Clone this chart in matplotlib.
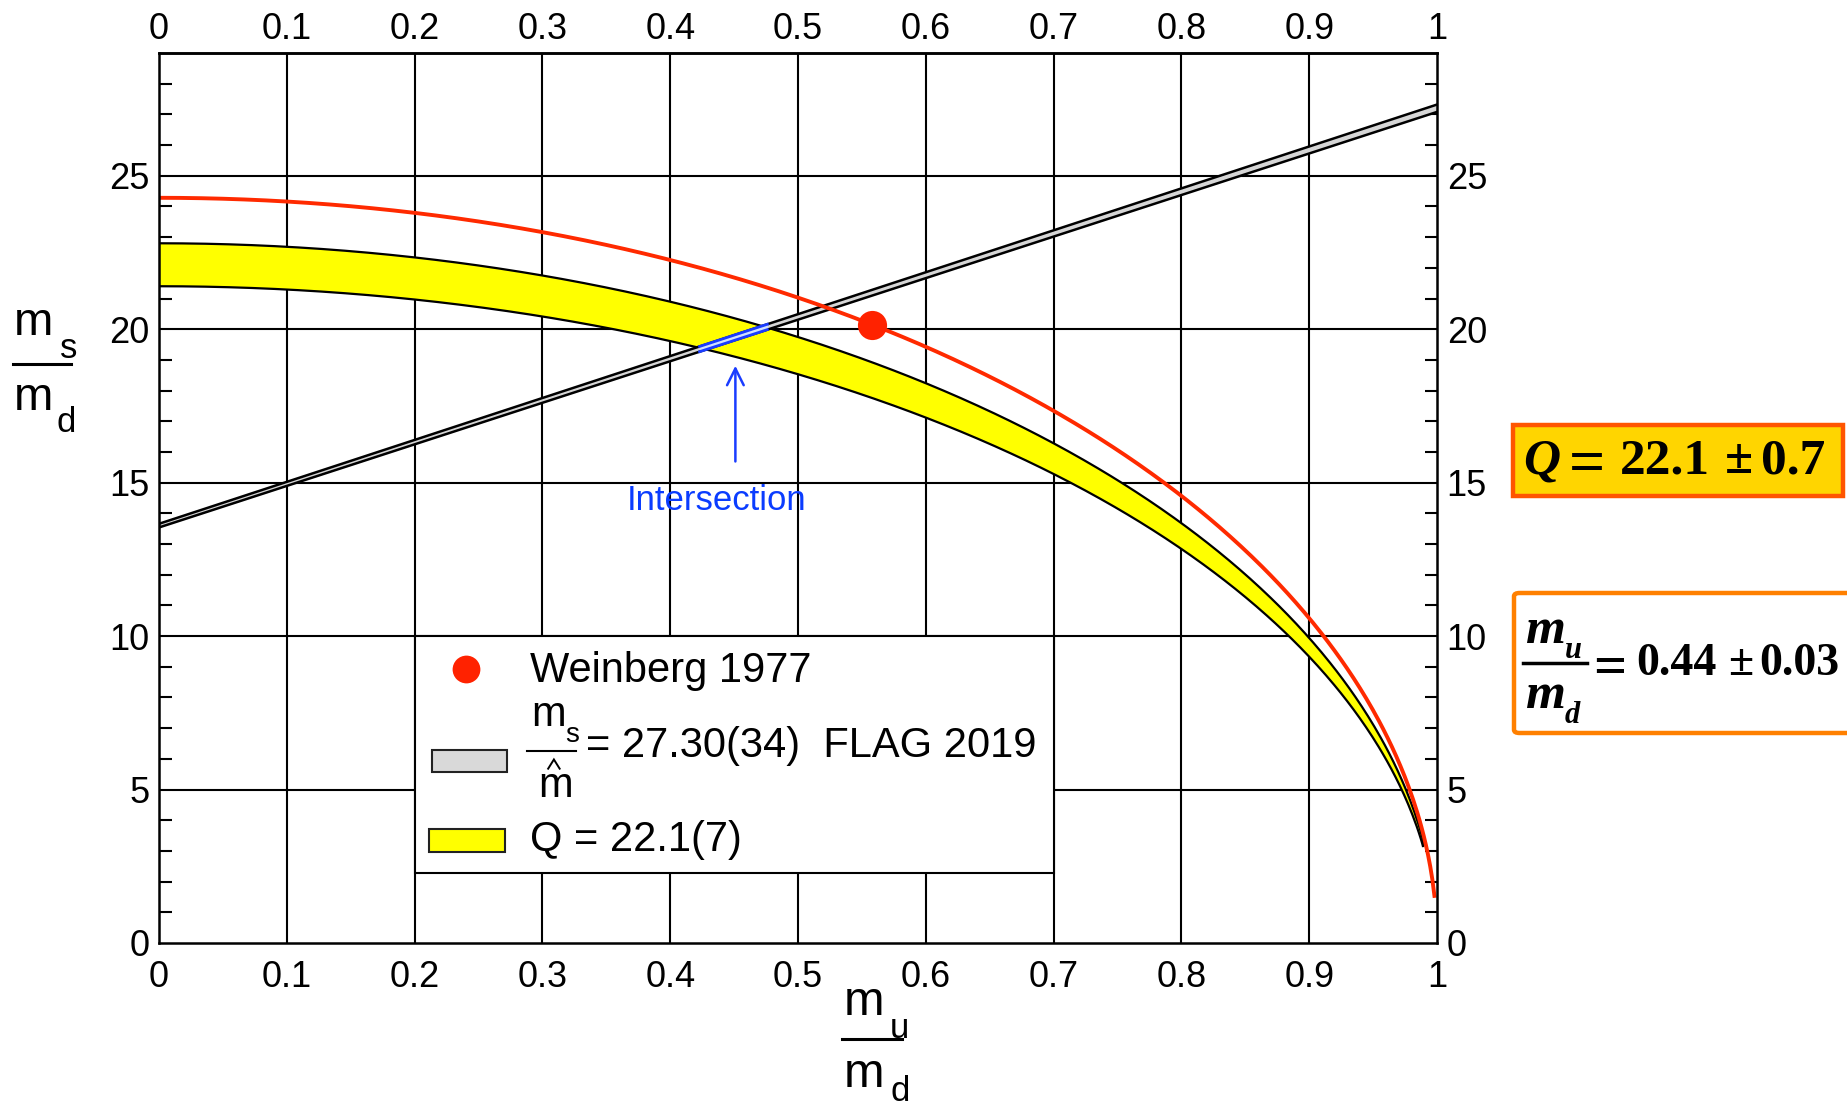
import numpy as np
import matplotlib
matplotlib.use('Agg')
import matplotlib.pyplot as plt
from matplotlib.patches import Rectangle, FancyBboxPatch
from matplotlib.lines import Line2D

plt.rcParams['font.family'] = ['Liberation Sans', 'DejaVu Sans']

# ---------------- data ----------------
x_ticks = [0, 0.1, 0.2, 0.3, 0.4, 0.5, 0.6, 0.7, 0.8, 0.9, 1.0]
x_tick_labels = ['0', '0.1', '0.2', '0.3', '0.4', '0.5', '0.6', '0.7', '0.8', '0.9', '1']
y_ticks = [0, 5, 10, 15, 20, 25]
y_tick_labels = ['0', '5', '10', '15', '20', '25']

Q_central = 22.1          # Q = 22.1(7)
Q_err = 0.7
q_band_xmax = 0.989       # where the yellow band stops

ratio_lo = 27.08          # ms/mhat band as drawn (FLAG 2019: 27.30(34))
ratio_hi = 27.32

weinberg_x = 0.558        # Weinberg 1977 point
weinberg_y = 20.15
weinberg_xmax = 0.998

intersection_x = [0.423, 0.476]
arrow_x = 0.451
arrow_y = [15.6, 18.9]

# ---------------- figure ----------------
fig = plt.figure(figsize=(18.47, 11.07), dpi=100)
ax = fig.add_axes([159/1847, 1-943/1107, (1437-159)/1847, (943-53)/1107])
ax.set_xlim(0, 1)
ax.set_ylim(0, 29)

# grid
for xv in x_ticks[1:-1]:
    ax.axvline(xv, color='black', lw=1.5, zorder=0)
for yv in y_ticks[1:]:
    ax.axhline(yv, color='black', lw=1.5, zorder=0)

# Q band (ellipses)
xq = np.linspace(0, q_band_xmax, 600)
q_lo = (Q_central - Q_err) * np.sqrt(1 - xq**2)
q_hi = (Q_central + Q_err) * np.sqrt(1 - xq**2)
ax.fill_between(xq, q_lo, q_hi, color='#FFFF00', lw=0, zorder=2)
ax.plot(xq, q_lo, color='black', lw=1.6, zorder=3)
ax.plot(xq, q_hi, color='black', lw=1.6, zorder=3)
ax.plot([xq[-1], xq[-1]], [q_lo[-1], q_hi[-1]], color='black', lw=1.6, zorder=3)

# ms/mhat band (lines)
xr = np.linspace(0, 1, 50)
r_lo = ratio_lo * (1 + xr) / 2
r_hi = ratio_hi * (1 + xr) / 2
ax.fill_between(xr, r_lo, r_hi, color='#D6D6D6', lw=0, zorder=4)
ax.plot(xr, r_lo, color='black', lw=1.8, zorder=5)
ax.plot(xr, r_hi, color='black', lw=1.8, zorder=5)

# intersection segment
xi = np.linspace(intersection_x[0], intersection_x[1], 20)
ax.fill_between(xi, ratio_lo * (1 + xi) / 2, ratio_hi * (1 + xi) / 2,
                color='#CFE0FF', lw=0, zorder=6)
ax.plot(xi, ratio_lo * (1 + xi) / 2, color='#1A3CFF', lw=2.0, zorder=6)
ax.plot(xi, ratio_hi * (1 + xi) / 2, color='#1A3CFF', lw=2.0, zorder=6)

# Weinberg ellipse through the Weinberg point
Q_w = weinberg_y / np.sqrt(1 - weinberg_x**2)
xw = np.linspace(0, weinberg_xmax, 600)
ax.plot(xw, Q_w * np.sqrt(1 - xw**2), color='#FF2A00', lw=2.8, zorder=7)
ax.plot([weinberg_x], [weinberg_y], 'o', color='#FF2200', ms=21, mew=0, zorder=8)

# arrow + label
ax.annotate('', xy=(arrow_x, arrow_y[1]), xytext=(arrow_x, arrow_y[0]),
            arrowprops=dict(arrowstyle='->', color='#1A3CFF', lw=1.8,
                            mutation_scale=30), zorder=8)
ax.text(0.436, 14.42, 'Intersection', color='#0A3CFF', fontsize=25,
        ha='center', va='center', zorder=8)

# axes / ticks
ax.set_xticks(x_ticks)
ax.set_xticklabels(x_tick_labels)
ax.set_yticks(y_ticks)
ax.set_yticklabels(y_tick_labels)
ax.set_yticks(np.arange(0, 29, 1), minor=True)
ax.tick_params(which='major', direction='in', length=0, labelsize=26,
               top=True, right=True, labeltop=False, labelright=True)
ax.tick_params(axis='x', which='major', pad=12)
ax.tick_params(axis='y', which='major', pad=7)
ax.tick_params(axis='y', which='minor', direction='in', length=9, width=1.5,
               left=True, right=True)
ax.tick_params(axis='x', which='minor', length=0)
for s in ax.spines.values():
    s.set_linewidth(1.8)
    s.set_zorder(10)

# top tick labels (separate pad)
secx = ax.secondary_xaxis('top')
secx.set_xticks(x_ticks)
secx.set_xticklabels(x_tick_labels)
secx.tick_params(direction='in', length=0, labelsize=26, pad=4)
secx.spines['top'].set_linewidth(1.8)

# ---------------- legend (drawn in data coords) ----------------
ax.add_patch(Rectangle((0.2, 2.28), 0.5, 10.0 - 2.28, facecolor='white',
                       edgecolor='black', lw=1.5, zorder=11))
ax.plot([0.240], [8.92], 'o', color='#FF2200', ms=20, mew=0, zorder=12)
ax.text(0.290, 8.50, 'Weinberg 1977', fontsize=30, va='baseline', zorder=12)
ax.add_patch(Rectangle((0.214, 5.57), 0.058, 0.71, facecolor='#D9D9D9',
                       edgecolor='#222222', lw=1.5, zorder=12))
ax.text(0.291, 7.06, 'm', fontsize=30, va='baseline', zorder=12)
ax.text(0.318, 6.54, 's', fontsize=20, va='baseline', zorder=12)
ax.plot([0.288, 0.326], [6.25, 6.25], color='black', lw=1.5, zorder=12)
ax.plot([0.3045, 0.309, 0.3135], [5.68, 5.98, 5.68], color='black', lw=1.4,
        solid_joinstyle='miter', zorder=12)
ax.text(0.297, 4.75, 'm', fontsize=30, va='baseline', zorder=12)
ax.text(0.334, 6.05, '= 27.30(34)  FLAG 2019', fontsize=30, va='baseline', zorder=12)
ax.add_patch(Rectangle((0.2116, 2.96), 0.059, 0.75, facecolor='#FFFF00',
                       edgecolor='#222222', lw=1.5, zorder=12))
ax.text(0.290, 2.99, 'Q = 22.1(7)', fontsize=30, va='baseline', zorder=12)

# ---------------- axis labels as fractions ----------------
W, H = 1847.0, 1107.0
def ftext(px, py, s, size, ha='left', **kw):
    fig.text(px / W, 1 - py / H, s, fontsize=size, ha=ha, va='baseline', **kw)
def fline(x0, x1, py, lw=2.2):
    fig.add_artist(Line2D([x0 / W, x1 / W], [1 - py / H, 1 - py / H],
                          transform=fig.transFigure, color='black', lw=lw))

# y label  m_s / m_d
ftext(14, 335, 'm', 34)
ftext(60, 358, 's', 25)
fline(13, 71, 364)
ftext(14, 410, 'm', 34)
ftext(57, 432, 'd', 25)

# x label  m_u / m_d
ftext(844, 1015, 'm', 35)
ftext(890, 1038, 'u', 25)
fline(842, 902, 1039)
ftext(844, 1087, 'm', 35)
ftext(890, 1101, 'd', 25)

# ---------------- right-hand boxes ----------------
serif_b = dict(family='Liberation Serif', weight='bold')
serif_bi = dict(family='Liberation Serif', weight='bold', style='italic')

fig.add_artist(Rectangle((1513 / W, 1 - 496 / H), 330 / W, 71 / H,
                         transform=fig.transFigure, facecolor='#FFD500',
                         edgecolor='#FF5500', lw=3.2))
ftext(1542, 473, 'Q', 37, ha='center', **serif_bi)
ftext(1587, 483, '=', 46, ha='center', **serif_b)
ftext(1665, 473, '22.1', 37, ha='center', **serif_b)
ftext(1739, 473, '\u00b1', 37, ha='center', **serif_b)
ftext(1793, 473, '0.7', 37, ha='center', **serif_b)

fig.add_artist(FancyBboxPatch((1514 / W, 1 - 733 / H), 345 / W, 140 / H,
                              boxstyle='round,pad=0,rounding_size=0.003',
                              transform=fig.transFigure, facecolor='white',
                              edgecolor='#FF8000', lw=3.2))
ftext(1525, 643, 'm', 37, **serif_bi)
ftext(1565, 658, 'u', 22, **serif_bi)
fline(1523, 1587, 663, lw=2.5)
ftext(1525, 708, 'm', 37, **serif_bi)
ftext(1565, 723, 'd', 22, **serif_bi)
ftext(1610, 684, '=', 42, ha='center', **serif_b)
ftext(1676, 675, '0.44', 33, ha='center', **serif_b)
ftext(1741, 675, '\u00b1', 33, ha='center', **serif_b)
ftext(1799, 675, '0.03', 33, ha='center', **serif_b)

fig.savefig('out.png', dpi=100)
